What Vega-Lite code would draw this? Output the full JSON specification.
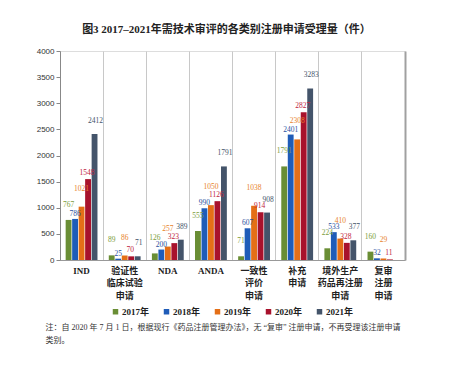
{
  "$schema": "https://vega.github.io/schema/vega-lite/v6.json",
  "width": 345,
  "height": 209,
  "autosize": {"type": "none"},
  "padding": {"left": 60, "top": 51, "right": 46, "bottom": 107},
  "background": "white",
  "title": {
    "text": "图3 2017–2021年需技术审评的各类别注册申请受理量（件）",
    "font": "Liberation Serif, Noto Sans CJK SC",
    "fontSize": 11,
    "fontWeight": "bold",
    "color": "#222222",
    "anchor": "middle",
    "offset": 12,
    "dx": -6
  },
  "data": {
    "values": [
      {"cat": "IND", "year": "2017年", "v": 767},
      {"cat": "IND", "year": "2018年", "v": 786},
      {"cat": "IND", "year": "2019年", "v": 1021},
      {"cat": "IND", "year": "2020年", "v": 1548},
      {"cat": "IND", "year": "2021年", "v": 2412},
      {"cat": "验证性\n临床试验\n申请", "year": "2017年", "v": 89},
      {"cat": "验证性\n临床试验\n申请", "year": "2018年", "v": 25},
      {"cat": "验证性\n临床试验\n申请", "year": "2019年", "v": 86},
      {"cat": "验证性\n临床试验\n申请", "year": "2020年", "v": 70},
      {"cat": "验证性\n临床试验\n申请", "year": "2021年", "v": 71},
      {"cat": "NDA", "year": "2017年", "v": 126},
      {"cat": "NDA", "year": "2018年", "v": 200},
      {"cat": "NDA", "year": "2019年", "v": 257},
      {"cat": "NDA", "year": "2020年", "v": 323},
      {"cat": "NDA", "year": "2021年", "v": 389},
      {"cat": "ANDA", "year": "2017年", "v": 555},
      {"cat": "ANDA", "year": "2018年", "v": 990},
      {"cat": "ANDA", "year": "2019年", "v": 1050},
      {"cat": "ANDA", "year": "2020年", "v": 1126},
      {"cat": "ANDA", "year": "2021年", "v": 1791},
      {"cat": "一致性\n评价\n申请", "year": "2017年", "v": 71},
      {"cat": "一致性\n评价\n申请", "year": "2018年", "v": 607},
      {"cat": "一致性\n评价\n申请", "year": "2019年", "v": 1038},
      {"cat": "一致性\n评价\n申请", "year": "2020年", "v": 914},
      {"cat": "一致性\n评价\n申请", "year": "2021年", "v": 908},
      {"cat": "补充\n申请", "year": "2017年", "v": 1791},
      {"cat": "补充\n申请", "year": "2018年", "v": 2401},
      {"cat": "补充\n申请", "year": "2019年", "v": 2308},
      {"cat": "补充\n申请", "year": "2020年", "v": 2827},
      {"cat": "补充\n申请", "year": "2021年", "v": 3283},
      {"cat": "境外生产\n药品再注册\n申请", "year": "2017年", "v": 224},
      {"cat": "境外生产\n药品再注册\n申请", "year": "2018年", "v": 533},
      {"cat": "境外生产\n药品再注册\n申请", "year": "2019年", "v": 410},
      {"cat": "境外生产\n药品再注册\n申请", "year": "2020年", "v": 328},
      {"cat": "境外生产\n药品再注册\n申请", "year": "2021年", "v": 377},
      {"cat": "复审\n注册\n申请", "year": "2017年", "v": 160},
      {"cat": "复审\n注册\n申请", "year": "2018年", "v": 32},
      {"cat": "复审\n注册\n申请", "year": "2019年", "v": 29},
      {"cat": "复审\n注册\n申请", "year": "2020年", "v": 11}
    ]
  },
  "encoding": {
    "x": {
      "field": "cat",
      "type": "nominal",
      "sort": null,
      "scale": {"paddingInner": 0, "paddingOuter": 0},
      "axis": null
    },
    "xOffset": {
      "field": "year",
      "type": "nominal",
      "scale": {"paddingInner": 0.1, "paddingOuter": 0.87}
    },
    "y": {
      "field": "v",
      "type": "quantitative",
      "scale": {"domain": [0, 4000]},
      "axis": null
    },
    "text": {"field": "v", "type": "quantitative"},
    "color": {
      "field": "year",
      "type": "nominal",
      "scale": {
        "domain": ["2017年", "2018年", "2019年", "2020年", "2021年"],
        "range": ["#7c9c3c", "#2a4f9e", "#e8822a", "#c0233e", "#44546a"]
      },
      "legend": null
    }
  },
  "layer": [
    {
      "mark": {"type": "bar"},
      "encoding": {
        "x": {
          "field": "cat",
          "type": "nominal",
          "sort": null,
          "scale": {"paddingInner": 0, "paddingOuter": 0},
          "axis": {
            "labelExpr": "split(datum.label, '\\n')",
            "labelAngle": 0,
            "labelFont": "Liberation Serif, Noto Sans CJK SC",
            "labelFontSize": 9,
            "labelFontWeight": "bold",
            "labelColor": "#222222",
            "labelLineHeight": 12.5,
            "labelPadding": 6,
            "ticks": false,
            "grid": false,
            "domainColor": "#999999",
            "title": [
              "注：自 2020 年 7 月 1 日，根据现行《药品注册管理办法》，无 “复审” 注册申请，不再受理该注册申请",
              "　　类别。"
            ],
            "titleFont": "Liberation Serif, Noto Sans CJK SC",
            "titleFontSize": 8,
            "titleFontWeight": "normal",
            "titleColor": "#333333",
            "titleAnchor": "start",
            "titleAlign": "left",
            "titleBaseline": "middle",
            "titleLineHeight": 13,
            "titleX": -15,
            "titleY": 67
          }
        },
        "y": {
          "field": "v",
          "type": "quantitative",
          "scale": {"domain": [0, 4000]},
          "axis": {
            "values": [0, 500, 1000, 1500, 2000, 2500, 3000, 3500, 4000],
            "format": "d",
            "grid": false,
            "title": null,
            "domainColor": "#888888",
            "tickColor": "#888888",
            "tickSize": 4,
            "labelFont": "Liberation Sans",
            "labelFontSize": 8,
            "labelColor": "#333333",
            "labelPadding": 2
          }
        },
        "color": {
          "field": "year",
          "type": "nominal",
          "scale": {
            "domain": ["2017年", "2018年", "2019年", "2020年", "2021年"],
            "range": ["#6a8e35", "#1f5cb8", "#e46f17", "#a8122c", "#44546a"]
          },
          "legend": {
            "orient": "none",
            "direction": "horizontal",
            "legendX": 51,
            "legendY": 256,
            "title": null,
            "symbolType": "square",
            "symbolSize": 30,
            "symbolStrokeWidth": 0,
            "labelFont": "Liberation Serif, Noto Sans CJK SC",
            "labelFontSize": 9,
            "labelFontWeight": "bold",
            "labelColor": "#222222",
            "labelOffset": 2,
            "columnPadding": 12
          }
        }
      }
    },
    {
      "transform": [{"filter": "datum.year == '2017年'"}],
      "mark": {"type": "text", "dy": -15, "baseline": "middle", "font": "Liberation Serif", "fontSize": 7.5},
      "encoding": {
        "x": {
          "field": "cat",
          "type": "nominal",
          "sort": null,
          "scale": {"paddingInner": 0, "paddingOuter": 0},
          "axis": {
            "orient": "top",
            "bandPosition": 0,
            "grid": true,
            "gridColor": "#c8c8c8",
            "labels": false,
            "ticks": false,
            "domain": false,
            "title": null
          }
        },
        "y": {
          "field": "v",
          "type": "quantitative",
          "scale": {"domain": [0, 4000]},
          "axis": {
            "orient": "right",
            "labels": false,
            "ticks": false,
            "grid": false,
            "domainColor": "#a0a0a0",
            "domainWidth": 2,
            "title": null
          }
        }
      }
    },
    {
      "transform": [{"filter": "datum.year == '2018年'"}],
      "mark": {"type": "text", "dy": -5, "baseline": "middle", "font": "Liberation Serif", "fontSize": 7.5}
    },
    {
      "transform": [{"filter": "datum.year == '2019年'"}],
      "mark": {"type": "text", "dy": -18, "baseline": "middle", "font": "Liberation Serif", "fontSize": 7.5}
    },
    {
      "transform": [{"filter": "datum.year == '2020年'"}],
      "mark": {"type": "text", "dy": -6, "dx": -1, "baseline": "middle", "font": "Liberation Serif", "fontSize": 7.5}
    },
    {
      "transform": [{"filter": "datum.year == '2021年'"}],
      "mark": {"type": "text", "dy": -13, "dx": 1, "baseline": "middle", "font": "Liberation Serif", "fontSize": 7.5}
    }
  ],
  "resolve": {
    "scale": {"color": "independent"},
    "axis": {"x": "independent", "y": "independent"}
  }
}
